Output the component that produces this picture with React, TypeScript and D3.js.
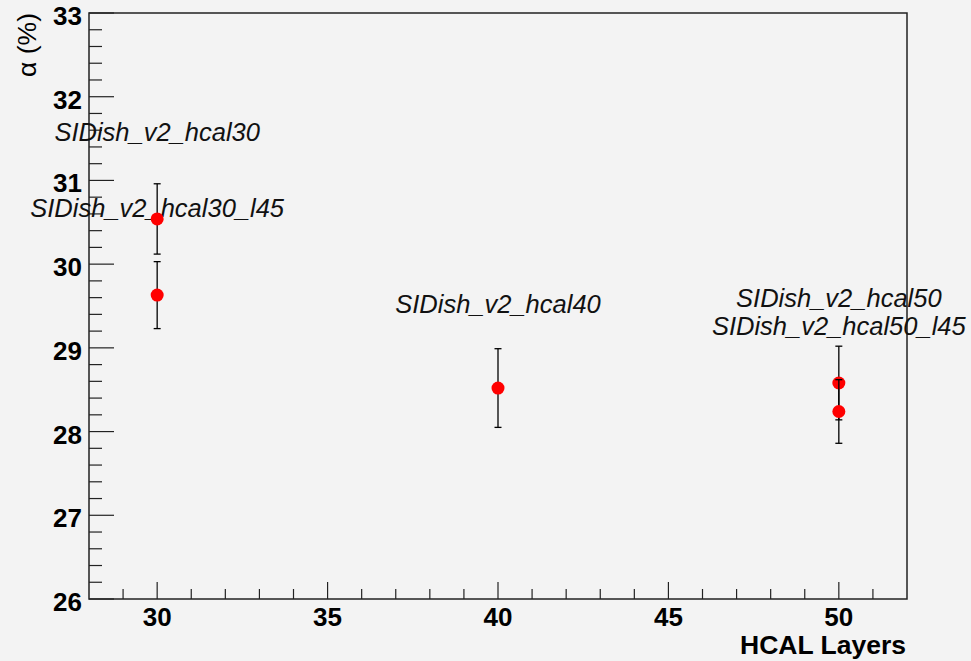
import React from "react";
import * as d3 from "d3";

const layers = [30, 30, 40, 50, 50];
const alphaValues = [30.54, 29.63, 28.52, 28.58, 28.24];
const alphaErrors = [0.42, 0.4, 0.47, 0.44, 0.38];

const labelNames = [
  "SIDish_v2_hcal30",
  "SIDish_v2_hcal30_l45",
  "SIDish_v2_hcal40",
  "SIDish_v2_hcal50",
  "SIDish_v2_hcal50_l45",
];
const labelX = [30, 30, 40, 50, 50];
const labelY = [31.47, 30.56, 29.42, 29.49, 29.15];

const xMajorTicks = [30, 35, 40, 45, 50];
const yMajorTicks = [26, 27, 28, 29, 30, 31, 32, 33];

const W = 971;
const H = 661;
const FONT = "'Liberation Sans', Arial, Helvetica, sans-serif";

export default function App() {
  const x = d3.scaleLinear().domain([28, 52]).range([89, 907]);
  const y = d3.scaleLinear().domain([26, 33]).range([599, 13]);

  const xMinor = d3.range(29, 52, 1).filter((v) => !xMajorTicks.includes(v));
  const yMinor = d3
    .range(0, 36)
    .map((i) => +(26 + i * 0.2).toFixed(2))
    .filter((v) => v > 26 && v < 33 && Math.abs(v - Math.round(v)) > 1e-6);

  const axisColor = "#222";
  const [x0, x1] = x.range();
  const [y0, y1] = y.range();

  return (
    <div style={{ position: "fixed", left: 0, top: 0, width: W, height: H }}>
      <svg width={W} height={H} style={{ display: "block" }}>
        <rect x={0} y={0} width={W} height={H} fill="#f3f3f3" />
        {/* frame */}
        <rect
          x={x0}
          y={y1}
          width={x1 - x0}
          height={y0 - y1}
          fill="none"
          stroke={axisColor}
          strokeWidth={1.5}
        />
        {/* y ticks */}
        {yMajorTicks.map((v) => (
          <line key={"ym" + v} x1={x0} x2={x0 + 25} y1={y(v)} y2={y(v)} stroke={axisColor} strokeWidth={1.2} />
        ))}
        {yMinor.map((v) => (
          <line key={"yn" + v} x1={x0} x2={x0 + 13} y1={y(v)} y2={y(v)} stroke={axisColor} strokeWidth={1.2} />
        ))}
        {yMajorTicks.map((v) => (
          <text
            key={"yl" + v}
            x={82}
            y={y(v) + 12}
            textAnchor="end"
            fontFamily={FONT}
            fontWeight="bold"
            fontSize={26}
            fill="#000"
          >
            {v}
          </text>
        ))}
        {/* x ticks */}
        {xMajorTicks.map((v) => (
          <line key={"xm" + v} x1={x(v)} x2={x(v)} y1={y0} y2={y0 - 17} stroke={axisColor} strokeWidth={1.2} />
        ))}
        {xMinor.map((v) => (
          <line key={"xn" + v} x1={x(v)} x2={x(v)} y1={y0} y2={y0 - 10} stroke={axisColor} strokeWidth={1.2} />
        ))}
        {xMajorTicks.map((v) => (
          <text
            key={"xl" + v}
            x={x(v)}
            y={626}
            textAnchor="middle"
            fontFamily={FONT}
            fontWeight="bold"
            fontSize={26}
            fill="#000"
          >
            {v}
          </text>
        ))}
        {/* axis titles */}
        <text
          x={906}
          y={654}
          textAnchor="end"
          fontFamily={FONT}
          fontWeight="bold"
          fontSize={26.5}
          fill="#000"
        >
          HCAL Layers
        </text>
        <text
          transform={`translate(36, 13) rotate(-90)`}
          textAnchor="end"
          fontFamily={FONT}
          fontSize={26.5}
          fill="#000"
        >
          α (%)
        </text>
        {/* labels */}
        {labelNames.map((name, i) => (
          <text
            key={name}
            x={x(labelX[i])}
            y={y(labelY[i])}
            textAnchor="middle"
            fontFamily={FONT}
            fontStyle="italic"
            fontSize={25.5}
            fill="#111"
          >
            {name}
          </text>
        ))}
        {/* error bars and points */}
        {layers.map((lv, i) => {
          const cx = x(lv);
          const top = y(alphaValues[i] + alphaErrors[i]);
          const bot = y(alphaValues[i] - alphaErrors[i]);
          return (
            <g key={"p" + i}>
              <line x1={cx} x2={cx} y1={top} y2={bot} stroke="#000" strokeWidth={1.3} />
              <line x1={cx - 3.5} x2={cx + 3.5} y1={top} y2={top} stroke="#000" strokeWidth={1.3} />
              <line x1={cx - 3.5} x2={cx + 3.5} y1={bot} y2={bot} stroke="#000" strokeWidth={1.3} />
              <circle cx={cx} cy={y(alphaValues[i])} r={6.5} fill="#ff0000" />
            </g>
          );
        })}
      </svg>
    </div>
  );
}
